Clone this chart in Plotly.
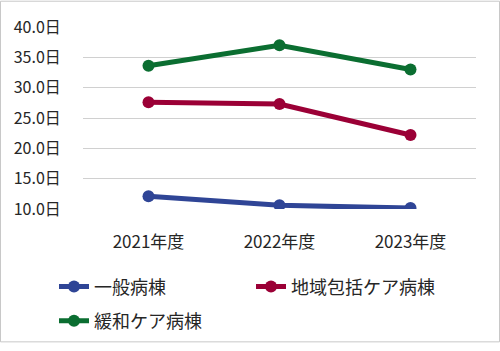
import plotly.graph_objects as go

categories = ["2021年度", "2022年度", "2023年度"]
series_names = ["一般病棟", "地域包括ケア病棟", "緩和ケア病棟"]
ippan = [12.1, 10.6, 10.15]
chiiki = [27.6, 27.3, 22.2]
kanwa = [33.6, 37.0, 33.0]
y_ticks = [10, 15, 20, 25, 30, 35, 40]
y_tick_labels = [f"{v:.1f}日" for v in y_ticks]

colors = ["#2f4596", "#9b0036", "#0b6e31"]
FONT = "Noto Sans CJK JP"

fig = go.Figure()
for name, vals, col, lg in zip(series_names, [ippan, chiiki, kanwa], colors, ["legend", "legend2", "legend3"]):
    fig.add_trace(go.Scatter(
        x=categories, y=vals, name=name, mode="lines+markers",
        line=dict(color=col, width=5), marker=dict(color=col, size=12),
        legend=lg,
    ))

W, H = 500, 351
L, R, T, B = 83, 24, 27, 137
pw, ph = W - L - R, H - T - B

def px2paper_x(px):
    return (px - L) / pw

def px2paper_y(py):
    return (H - B - py) / ph

def leg(xpx, ypx):
    return dict(
        orientation="h", x=px2paper_x(xpx), y=px2paper_y(ypx), xanchor="left", yanchor="top",
        font=dict(size=18), bgcolor="rgba(0,0,0,0)",
    )

fig.update_layout(
    width=W, height=H,
    margin=dict(l=L, r=R, t=T, b=B),
    paper_bgcolor="white", plot_bgcolor="white",
    font=dict(family=FONT, color="#262626", size=16),
    showlegend=True,
    legend=leg(54, 275),
    legend2=leg(251, 275),
    legend3=leg(54, 310),
    xaxis=dict(
        type="category", showgrid=False, showline=False, zeroline=False,
        ticks="outside", ticklen=18, tickcolor="rgba(0,0,0,0)",
        tickfont=dict(size=17), range=[-0.5, 2.5],
    ),
    yaxis=dict(
        range=[10, 40], tickvals=y_ticks, ticktext=y_tick_labels,
        showgrid=True, gridcolor="#d0d0d0", gridwidth=1, zeroline=False, showline=False,
        ticks="outside", ticklen=18, tickcolor="rgba(0,0,0,0)",
        tickfont=dict(size=16),
    ),
    shapes=[dict(
        type="rect", xref="paper", yref="paper",
        x0=px2paper_x(0.5), x1=px2paper_x(499.5),
        y0=px2paper_y(350.5), y1=px2paper_y(0.5),
        line=dict(color="#c8c8c8", width=1), layer="below",
    )],
)

fig.write_html("out.html")
